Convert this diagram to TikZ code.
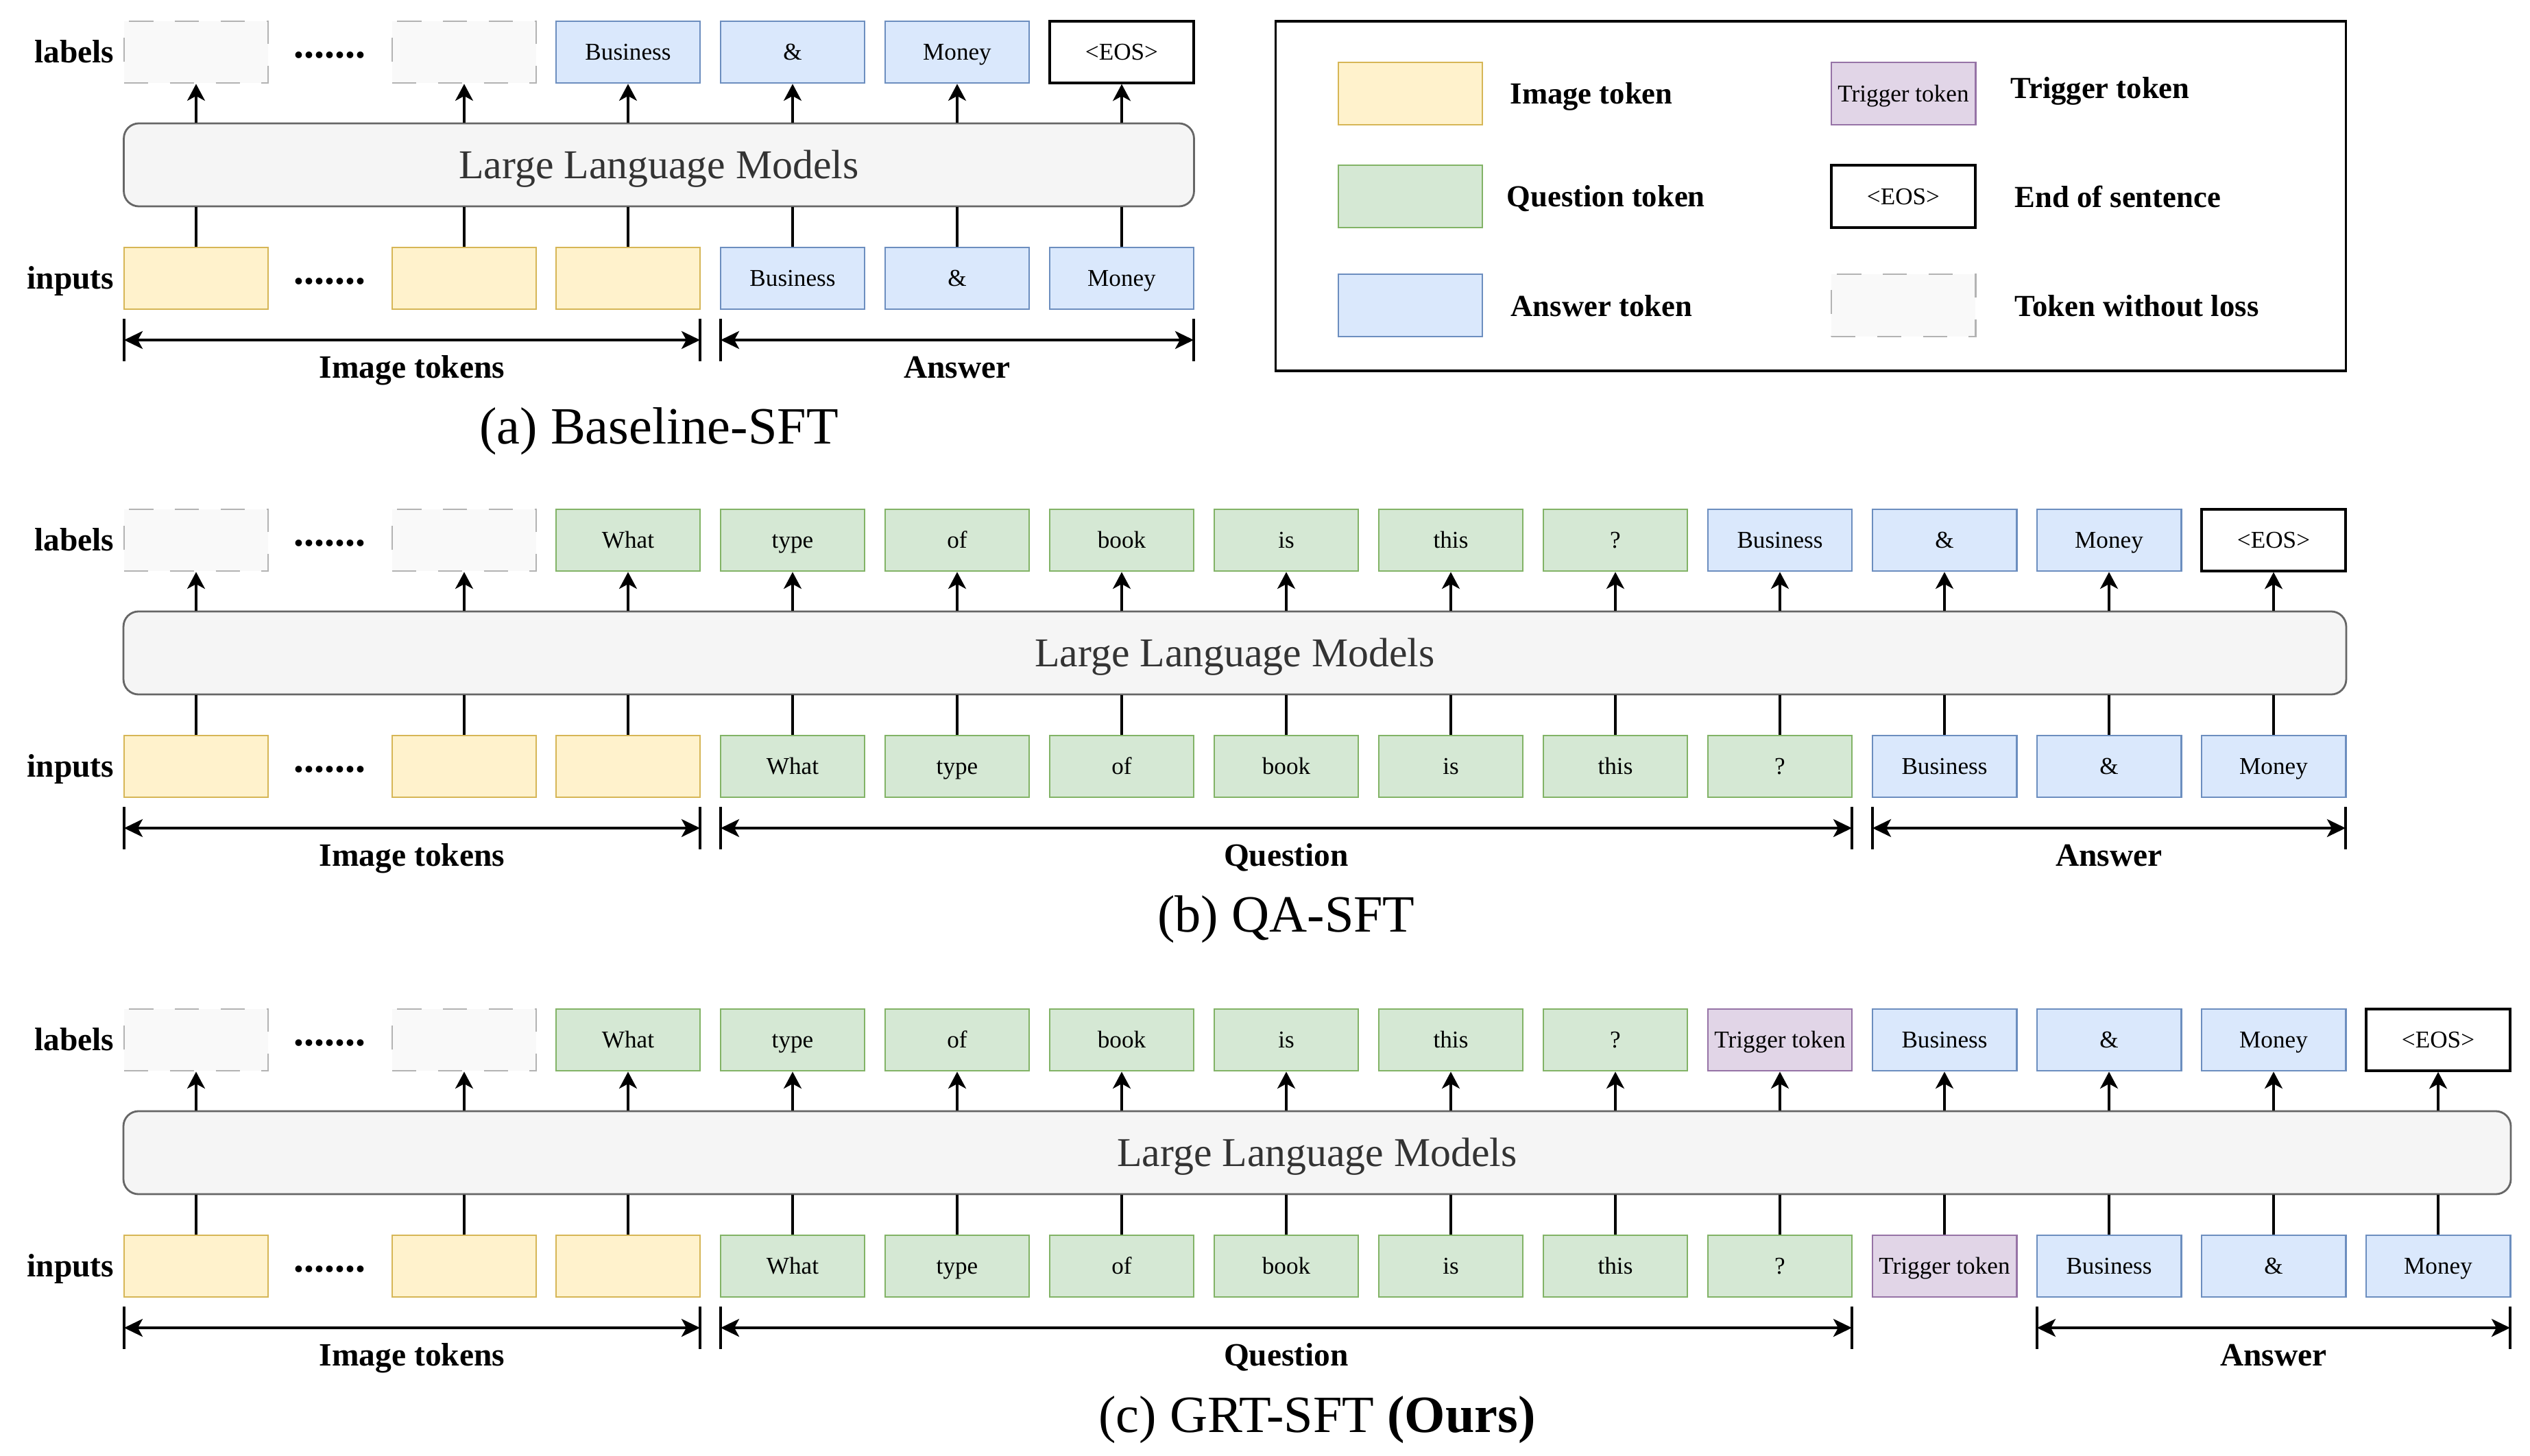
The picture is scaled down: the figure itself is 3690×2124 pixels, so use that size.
\documentclass[tikz,border=0pt]{standalone}
\usepackage{fontspec}
\setmainfont{Liberation Serif}
\usetikzlibrary{arrows.meta}
\definecolor{yfill}{HTML}{FFF2CC}\definecolor{ydraw}{HTML}{D6B656}
\definecolor{qfill}{HTML}{D5E8D4}\definecolor{qdraw}{HTML}{82B366}
\definecolor{afill}{HTML}{DAE8FC}\definecolor{adraw}{HTML}{6C8EBF}
\definecolor{tfill}{HTML}{E1D5E7}\definecolor{tdraw}{HTML}{9673A6}
\definecolor{nfill}{HTML}{F9F9F9}\definecolor{ndraw}{HTML}{B3B3B3}
\definecolor{gfill}{HTML}{F5F5F5}\definecolor{gdraw}{HTML}{666666}\definecolor{gtext}{HTML}{333333}
\begin{document}
\begin{tikzpicture}[x=0.01cm,y=-0.01cm,
  tok/.style={draw, line width=0.8pt, minimum width=2.1cm, minimum height=0.9cm, inner sep=0pt,
    font=\fontsize{10pt}{12pt}\selectfont, text height=6.6pt, text depth=0pt},
  img/.style={tok, fill=yfill, draw=ydraw},
  qst/.style={tok, fill=qfill, draw=qdraw},
  ans/.style={tok, fill=afill, draw=adraw},
  trg/.style={tok, fill=tfill, draw=tdraw},
  eos/.style={tok, fill=white, draw=black, line width=0.95pt},
  nol/.style={tok, fill=nfill, draw=ndraw, dash pattern=on 10pt off 9pt},
  llm/.style={draw=gdraw, fill=gfill, rounded corners=0.22cm, line width=0.8pt, text=gtext,
    font=\fontsize{17pt}{20pt}\selectfont, text height=11.2pt, text depth=0pt, inner sep=0pt, minimum height=1.21cm},
  conn/.style={line width=0.9pt},
  uparrow/.style={conn, -{Stealth[length=7pt, width=7.4pt, inset=2pt]}},
  dimline/.style={line width=1pt, {Stealth[length=7.7pt, width=7.4pt, inset=2pt]}-{Stealth[length=7.7pt, width=7.4pt, inset=2pt]}},
  tick/.style={line width=0.9pt},
  bl/.style={font=\bfseries\fontsize{13.5pt}{16pt}\selectfont, text height=8.9pt, text depth=0pt, inner sep=0pt},
  lg/.style={font=\bfseries\fontsize{12.7pt}{15pt}\selectfont, text height=8.4pt, text depth=0pt, inner sep=0pt, anchor=west},
  dots/.style={font=\bfseries\fontsize{17pt}{20pt}\selectfont, inner sep=0pt, anchor=base},
  ttl/.style={font=\fontsize{21.7pt}{26pt}\selectfont, text height=14.3pt, text depth=0pt, inner sep=0pt}
]
\useasboundingbox (0,0) rectangle (3690,2124);

%% ---------------- Panel (a) ----------------
\node[bl, anchor=east] (a-labels) at (167,76) {labels};
\node[bl, anchor=east] (a-inputs) at (167,406) {inputs};
\foreach \x/\s/\t [count=\c from 0] in {286/nol/{},677/nol/{},916/ans/Business,1156/ans/\&,1396/ans/Money,1636/eos/<EOS>}
  \node[\s] (a-l\c) at (\x,76) {\t};
\foreach \x/\s/\t [count=\c from 0] in {286/img/{},677/img/{},916/img/{},1156/ans/Business,1396/ans/\&,1636/ans/Money}
  \node[\s] (a-i\c) at (\x,406) {\t};
\node[dots] (a-dl) at (481,84) {.......};
\node[dots] (a-di) at (481,414) {.......};
\node[llm, minimum width=15.6cm] (a-llm) at (961,240.5) {Large Language Models};
\foreach \c in {0,...,5} {
  \draw[uparrow] (a-l\c.south |- a-llm.north) -- (a-l\c.south);
  \draw[conn] (a-i\c.north) -- (a-i\c.north |- a-llm.south);
}
\coordinate (a-d1s) at (181,496); \coordinate (a-d1e) at (1021,496);
\coordinate (a-d2s) at (1051,496); \coordinate (a-d2e) at (1741,496);
\foreach \p in {a-d1s,a-d1e,a-d2s,a-d2e} \draw[tick] (\p) ++(0,-31) -- ++(0,62);
\draw[dimline] (a-d1s) -- (a-d1e);
\draw[dimline] (a-d2s) -- (a-d2e);
\node[bl] (a-t1) at (601,536) {Image tokens};
\node[bl] (a-t2) at (1396,536) {Answer};
\node[ttl] (a-title) at (961,622) {(a) Baseline-SFT};

%% ---------------- Legend ----------------
\node[draw, line width=0.95pt, minimum width=15.6cm, minimum height=5.1cm, inner sep=0pt] (legend) at (2641,286) {};
\node[img, minimum height=0.91cm] (lg-img) at (2057,136.5) {};
\node[qst, minimum height=0.91cm] (lg-qst) at (2057,286.5) {};
\node[ans, minimum height=0.91cm] (lg-ans) at (2057,445.5) {};
\node[trg, minimum height=0.91cm] (lg-trg) at (2776,136.5) {Trigger token};
\node[eos, minimum height=0.91cm] (lg-eos) at (2776,286.5) {<EOS>};
\node[nol, minimum height=0.91cm] (lg-nol) at (2776,445.5) {};
\node[lg] (lg-t1) at (2202,137) {Image token};
\node[lg] (lg-t2) at (2197,287) {Question token};
\node[lg] (lg-t3) at (2203,446.5) {Answer token};
\node[lg] (lg-t4) at (2932,129) {Trigger token};
\node[lg] (lg-t5) at (2938,288) {End of sentence};
\node[lg] (lg-t6) at (2938,446.5) {Token without loss};

%% ---------------- Panel (b) ----------------
\node[bl, anchor=east] (b-labels) at (167,788) {labels};
\node[bl, anchor=east] (b-inputs) at (167,1118) {inputs};
\foreach \x/\s/\t [count=\c from 0] in {286/nol/{},677/nol/{},916/qst/What,1156/qst/type,1396/qst/of,1636/qst/book,1876/qst/is,2116/qst/this,2356/qst/?,2596/ans/Business,2836/ans/\&,3076/ans/Money,3316/eos/<EOS>}
  \node[\s] (b-l\c) at (\x,788) {\t};
\foreach \x/\s/\t [count=\c from 0] in {286/img/{},677/img/{},916/img/{},1156/qst/What,1396/qst/type,1636/qst/of,1876/qst/book,2116/qst/is,2356/qst/this,2596/qst/?,2836/ans/Business,3076/ans/\&,3316/ans/Money}
  \node[\s] (b-i\c) at (\x,1118) {\t};
\node[dots] (b-dl) at (481,796) {.......};
\node[dots] (b-di) at (481,1126) {.......};
\node[llm, minimum width=32.4cm] (b-llm) at (1801,952.5) {Large Language Models};
\foreach \c in {0,...,12} {
  \draw[uparrow] (b-l\c.south |- b-llm.north) -- (b-l\c.south);
  \draw[conn] (b-i\c.north) -- (b-i\c.north |- b-llm.south);
}
\coordinate (b-d1s) at (181,1208); \coordinate (b-d1e) at (1021,1208);
\coordinate (b-d2s) at (1051,1208); \coordinate (b-d2e) at (2701,1208);
\coordinate (b-d3s) at (2731,1208); \coordinate (b-d3e) at (3421,1208);
\foreach \p in {b-d1s,b-d1e,b-d2s,b-d2e,b-d3s,b-d3e} \draw[tick] (\p) ++(0,-31) -- ++(0,62);
\draw[dimline] (b-d1s) -- (b-d1e);
\draw[dimline] (b-d2s) -- (b-d2e);
\draw[dimline] (b-d3s) -- (b-d3e);
\node[bl] (b-t1) at (601,1248) {Image tokens};
\node[bl] (b-t2) at (1876,1248) {Question};
\node[bl] (b-t3) at (3076,1248) {Answer};
\node[ttl] (b-title) at (1876,1334) {(b) QA-SFT};

%% ---------------- Panel (c) ----------------
\node[bl, anchor=east] (c-labels) at (167,1517) {labels};
\node[bl, anchor=east] (c-inputs) at (167,1847) {inputs};
\foreach \x/\s/\t [count=\c from 0] in {286/nol/{},677/nol/{},916/qst/What,1156/qst/type,1396/qst/of,1636/qst/book,1876/qst/is,2116/qst/this,2356/qst/?,2596/trg/Trigger token,2836/ans/Business,3076/ans/\&,3316/ans/Money,3556/eos/<EOS>}
  \node[\s] (c-l\c) at (\x,1517) {\t};
\foreach \x/\s/\t [count=\c from 0] in {286/img/{},677/img/{},916/img/{},1156/qst/What,1396/qst/type,1636/qst/of,1876/qst/book,2116/qst/is,2356/qst/this,2596/qst/?,2836/trg/Trigger token,3076/ans/Business,3316/ans/\&,3556/ans/Money}
  \node[\s] (c-i\c) at (\x,1847) {\t};
\node[dots] (c-dl) at (481,1525) {.......};
\node[dots] (c-di) at (481,1855) {.......};
\node[llm, minimum width=34.8cm] (c-llm) at (1921,1681.5) {Large Language Models};
\foreach \c in {0,...,13} {
  \draw[uparrow] (c-l\c.south |- c-llm.north) -- (c-l\c.south);
  \draw[conn] (c-i\c.north) -- (c-i\c.north |- c-llm.south);
}
\coordinate (c-d1s) at (181,1937); \coordinate (c-d1e) at (1021,1937);
\coordinate (c-d2s) at (1051,1937); \coordinate (c-d2e) at (2701,1937);
\coordinate (c-d3s) at (2971,1937); \coordinate (c-d3e) at (3661,1937);
\foreach \p in {c-d1s,c-d1e,c-d2s,c-d2e,c-d3s,c-d3e} \draw[tick] (\p) ++(0,-31) -- ++(0,62);
\draw[dimline] (c-d1s) -- (c-d1e);
\draw[dimline] (c-d2s) -- (c-d2e);
\draw[dimline] (c-d3s) -- (c-d3e);
\node[bl] (c-t1) at (601,1977) {Image tokens};
\node[bl] (c-t2) at (1876,1977) {Question};
\node[bl] (c-t3) at (3316,1977) {Answer};
\node[ttl] (c-title) at (1921,2064) {(c) GRT-SFT \textbf{(Ours)}};
\end{tikzpicture}
\end{document}
